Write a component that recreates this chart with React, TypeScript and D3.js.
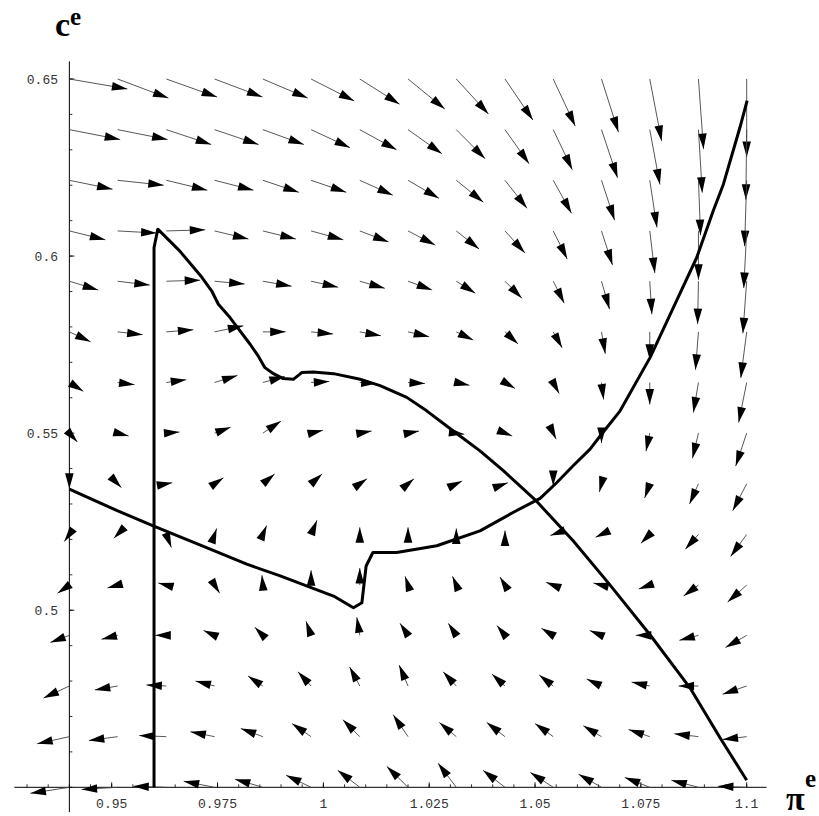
import React from 'react';
import * as d3 from 'd3';

// sampling grid of the vector field
const piGrid = [0.94, 0.9514, 0.9629, 0.9743, 0.9857, 0.9971, 1.0086, 1.02, 1.0314, 1.0429, 1.0543, 1.0657, 1.0771, 1.0886, 1.1];
const cGrid = [0.65, 0.6357, 0.6214, 0.6071, 0.5929, 0.5786, 0.5643, 0.55, 0.5357, 0.5214, 0.5071, 0.4929, 0.4786, 0.4643, 0.45];

// arrow components (units of 1e-4), rows follow cGrid, columns follow piGrid
const dPi = [
  [137, 120, 120, 113, 106, 102, 94, 87, 76, 66, 52, 40, 28, 12, 0],
  [120, 118, 106, 104, 97, 92, 87, 80, 68, 57, 45, 38, 24, 9, -2],
  [102, 109, 97, 92, 85, 83, 78, 73, 64, 52, 43, 31, 17, 5, -5],
  [85, 92, 92, 80, 78, 76, 68, 64, 54, 47, 33, 26, 12, 0, -7],
  [68, 76, 80, 71, 68, 64, 59, 57, 45, 40, 26, 19, 5, -2, -9],
  [50, 59, 64, 68, 54, 52, 50, 50, 40, 31, 21, 9, 0, -7, -14],
  [33, 40, 47, 54, 52, 43, 40, 40, 31, 24, 14, 5, 0, -12, -19],
  [19, 26, 31, 38, 43, 28, 28, 26, 19, 17, 7, 0, -9, -14, -26],
  [0, 9, 14, 21, 28, 26, 17, 14, 14, 7, 0, -5, -12, -21, -33],
  [-12, -9, 12, 5, 9, 14, 0, 0, 0, 0, -7, -14, -21, -31, -38],
  [-28, -24, -19, 12, -2, 0, 0, -7, -9, -12, -17, -19, -26, -35, -45],
  [-45, -38, -26, -26, -19, -12, -7, -19, -19, -19, -28, -28, -33, -45, -50],
  [-61, -54, -47, -45, -35, -31, -24, -21, -31, -31, -33, -35, -43, -47, -57],
  [-76, -68, -64, -57, -52, -45, -40, -35, -40, -43, -43, -43, -50, -57, -57],
  [-92, -85, -78, -73, -66, -59, -52, -50, -43, -52, -54, -54, -59, -64, -68],
];
const dC = [
  [-28, -54, -51, -51, -54, -62, -71, -85, -99, -116, -133, -150, -175, -198, -220],
  [-28, -28, -42, -42, -42, -51, -57, -68, -82, -96, -113, -136, -155, -178, -198],
  [-25, -14, -28, -28, -34, -34, -42, -51, -62, -79, -93, -113, -133, -155, -186],
  [-25, -6, 3, -23, -23, -25, -31, -40, -51, -62, -79, -96, -119, -138, -161],
  [-25, -11, 3, -8, -14, -17, -20, -25, -34, -48, -62, -79, -93, -121, -147],
  [-28, -8, 6, 17, 0, -6, -11, -14, -23, -34, -45, -62, -79, -107, -130],
  [-25, -6, 8, 20, 17, 3, -3, -3, -8, -17, -31, -48, -62, -85, -113],
  [-25, -8, 3, 17, 34, 8, 6, 6, -3, -8, -17, -28, -51, -71, -93],
  [-14, -11, 3, 17, 28, 28, 14, 14, 8, 3, -6, -23, -40, -57, -76],
  [-20, -11, -37, 17, 25, 40, 20, 20, 17, 11, -3, -8, -25, -42, -62],
  [-23, -8, 6, -23, 28, 42, 48, 25, 25, 23, 8, 6, -11, -31, -48],
  [-20, -11, 0, 14, 23, 40, 51, 34, 34, 28, 20, 14, 0, -14, -34],
  [-34, -11, 3, 14, 28, 40, 54, 59, 40, 34, 31, 20, 11, 0, -23],
  [-20, -11, 3, 14, 23, 37, 48, 62, 40, 40, 37, 31, 20, 8, -8],
  [-17, -6, 3, 17, 23, 34, 48, 59, 68, 48, 42, 37, 28, 20, 3],
];

// curve A: vertical line at 0.96 then the descending branch
const curveAPi = [0.96, 0.96, 0.9609, 0.9661, 0.9713, 0.9736, 0.9752, 0.9779, 0.9803, 0.9827, 0.9846, 0.9862, 0.9882, 0.9905, 0.9929, 0.9949, 0.9976, 1.0024, 1.0087, 1.0134, 1.0197, 1.0244, 1.0307, 1.037, 1.0425, 1.0501, 1.059, 1.0676, 1.0772, 1.0866, 1.0937, 1.1];
const curveAC = [0.45, 0.6024, 0.6076, 0.6014, 0.594, 0.5902, 0.5864, 0.5827, 0.5789, 0.5751, 0.5718, 0.5685, 0.5668, 0.5654, 0.5652, 0.5671, 0.5673, 0.5668, 0.5652, 0.5634, 0.5601, 0.5563, 0.5506, 0.545, 0.5394, 0.5311, 0.5196, 0.5073, 0.493, 0.4781, 0.464, 0.452];

// curve B: slanted branch, jump, then ascending branch
const curveBPi = [0.94, 0.9513, 0.9598, 0.9724, 0.9819, 0.9898, 1.0024, 1.0071, 1.0091, 1.0101, 1.0117, 1.0173, 1.0268, 1.037, 1.0448, 1.0512, 1.0551, 1.059, 1.063, 1.0657, 1.0701, 1.0772, 1.0827, 1.0882, 1.0921, 1.0945, 1.0984, 1.1001];
const curveBC = [0.5342, 0.5281, 0.5238, 0.5177, 0.513, 0.5097, 0.504, 0.5007, 0.5021, 0.5125, 0.5163, 0.5163, 0.5182, 0.5224, 0.5276, 0.5316, 0.536, 0.5408, 0.5455, 0.5497, 0.5563, 0.5714, 0.5855, 0.5996, 0.6128, 0.6203, 0.6363, 0.6439];

const xTickValues = [0.95, 0.975, 1, 1.025, 1.05, 1.075, 1.1];
const xTickLabels = ['0.95', '0.975', '1', '1.025', '1.05', '1.075', '1.1'];
const yTickValues = [0.5, 0.55, 0.6, 0.65];
const yTickLabels = ['0.5', '0.55', '0.6', '0.65'];
const xAxisExtent = [0.927, 1.1047];
const yAxisExtent = [0.443, 0.655];

export default function App() {
  const W = 819;
  const H = 816;
  const x = d3.scaleLinear().domain([0.95, 1.1]).range([111.7, 746.7]);
  const y = d3.scaleLinear().domain([0.45, 0.65]).range([787.3, 79]);
  const x0 = 0.94; // y axis position
  const y0 = 0.45; // x axis position

  const arrows: React.ReactNode[] = [];
  cGrid.forEach((c, j) => {
    piGrid.forEach((p, i) => {
      const ax = x(p), ay = y(c);
      const bx = x(p + dPi[j][i] * 1e-4), by = y(c + dC[j][i] * 1e-4);
      const dx = bx - ax, dy = by - ay;
      const len = Math.hypot(dx, dy);
      if (len < 1e-6) return;
      const ux = dx / len, uy = dy / len;
      const hl = 15.5, hw = 4.3;
      const hx = bx - ux * hl, hy = by - uy * hl;
      const pts = `${bx},${by} ${hx - uy * hw},${hy + ux * hw} ${hx + uy * hw},${hy - ux * hw}`;
      arrows.push(
        <g key={`a${j}-${i}`}>
          <line x1={ax} y1={ay} x2={bx} y2={by} stroke="#444" strokeWidth={0.9} />
          <polygon points={pts} fill="#000" />
        </g>
      );
    });
  });

  const line = d3.line<[number, number]>().x(d => x(d[0])).y(d => y(d[1]));
  const curveA = line(curveAPi.map((p, k) => [p, curveAC[k]] as [number, number])) || '';
  const curveB = line(curveBPi.map((p, k) => [p, curveBC[k]] as [number, number])) || '';

  const xMinor = d3.range(0.93, 1.1001, 0.005);
  const yMinor = d3.range(0.45, 0.6501, 0.01);

  return (
    <svg width={W} height={H} style={{ position: 'absolute', left: 0, top: 0, background: '#fff' }}>
      <rect x={0} y={0} width={W} height={H} fill="#fff" />
      {/* axes */}
      <line x1={x(xAxisExtent[0])} x2={x(xAxisExtent[1])} y1={y(y0)} y2={y(y0)} stroke="#000" strokeWidth={1} />
      <line x1={x(x0)} x2={x(x0)} y1={y(yAxisExtent[0])} y2={y(yAxisExtent[1])} stroke="#000" strokeWidth={1} />
      {xMinor.map((v, k) => (
        <line key={`xm${k}`} x1={x(v)} x2={x(v)} y1={y(y0)} y2={y(y0) - 3} stroke="#000" strokeWidth={0.8} />
      ))}
      {xTickValues.map((v, k) => (
        <g key={`xt${k}`}>
          <line x1={x(v)} x2={x(v)} y1={y(y0)} y2={y(y0) - 5} stroke="#000" strokeWidth={0.9} />
          <text x={x(v)} y={808} textAnchor="middle" fontFamily="'Liberation Mono', 'DejaVu Sans Mono', monospace" fontSize={13} fill="#333">
            {xTickLabels[k]}
          </text>
        </g>
      ))}
      {yMinor.map((v, k) => (
        <line key={`ym${k}`} x1={x(x0)} x2={x(x0) + 3} y1={y(v)} y2={y(v)} stroke="#000" strokeWidth={0.8} />
      ))}
      {yTickValues.map((v, k) => (
        <g key={`yt${k}`}>
          <line x1={x(x0)} x2={x(x0) + 5} y1={y(v)} y2={y(v)} stroke="#000" strokeWidth={0.9} />
          <text x={58} y={y(v) + 4.5} textAnchor="end" fontFamily="'Liberation Mono', 'DejaVu Sans Mono', monospace" fontSize={13} fill="#333">
            {yTickLabels[k]}
          </text>
        </g>
      ))}
      {/* vector field */}
      {arrows}
      {/* curves */}
      <path d={curveA} fill="none" stroke="#000" strokeWidth={3} strokeLinejoin="round" />
      <path d={curveB} fill="none" stroke="#000" strokeWidth={3} strokeLinejoin="round" />
      {/* axis labels */}
      <text x={55} y={36} fontFamily="'Liberation Serif', 'Times New Roman', serif" fontWeight="bold" fontSize={34} fill="#000">c</text>
      <text x={70} y={25} fontFamily="'Liberation Serif', 'Times New Roman', serif" fontWeight="bold" fontSize={25} fill="#000">e</text>
      <text x={786} y={810} fontFamily="'Liberation Serif', 'Times New Roman', serif" fontWeight="bold" fontSize={34} fill="#000">π</text>
      <text x={805} y={787} fontFamily="'Liberation Serif', 'Times New Roman', serif" fontWeight="bold" fontSize={25} fill="#000">e</text>
    </svg>
  );
}
